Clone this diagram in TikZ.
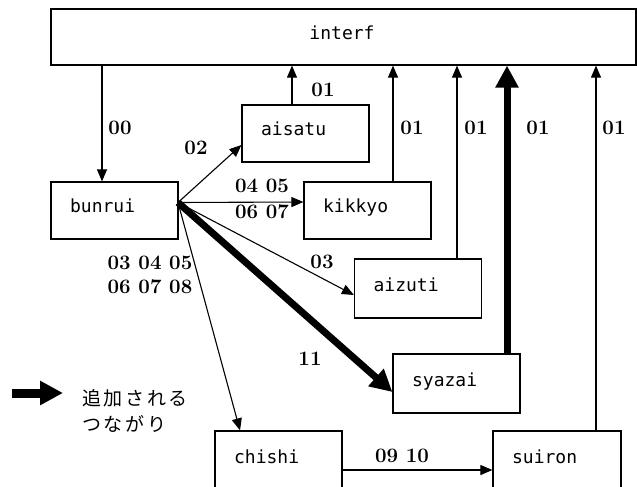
\documentclass[tikz,border=0pt]{standalone}
\usepackage{fontspec}
\newfontfamily\boxfont{DejaVu Sans Mono}
\newfontfamily\cjk[LetterSpace=14]{Noto Sans CJK JP}
\usetikzlibrary{arrows.meta}
\begin{document}
\begin{tikzpicture}[x=1pt,y=-1pt,
  box/.style={draw,line width=1.2pt,minimum width=127pt,minimum height=57pt,inner sep=0pt},
  btxt/.style={font=\boxfont\fontsize{18}{18}\selectfont,inner sep=0pt,anchor=base west},
  lab/.style={font=\bfseries\fontsize{20.5}{20.5}\selectfont,inner sep=0pt},
  jtxt/.style={font=\cjk\fontsize{19}{19}\selectfont,inner sep=0pt,anchor=west},
  conn/.style={line width=1.1pt,-{Triangle[length=12pt,width=10pt]}},
  bigconn/.style={line width=7pt,-{Triangle[length=22pt,width=22pt]}}
]
\useasboundingbox[fill=white] (0,0) rectangle (637,487);

% boxes
\node[box,minimum width=585pt,minimum height=56pt] (interf) at (343.5,37) {};
\node[box] (bunrui) at (114.5,210.5) {};
\node[box] (aisatu) at (305.5,133.5) {};
\node[box] (kikkyo) at (367.5,210.5) {};
\node[box,minimum height=59pt] (aizuti) at (418,288.5) {};
\node[box,minimum height=59pt] (syazai) at (456.5,383.5) {};
\node[box,minimum height=80pt] (chishi) at (278.5,471) {};
\node[box,minimum width=128pt,minimum height=80pt] (suiron) at (557,471) {};

% box texts
\node[btxt,anchor=base] (interfT) at ([shift={(-1.5,31)}]interf.north) {interf};
\node[btxt] (bunruiT) at ([shift={(19.5,31)}]bunrui.north west) {bunrui};
\node[btxt] (aisatuT) at ([shift={(19.5,31)}]aisatu.north west) {aisatu};
\node[btxt] (kikkyoT) at ([shift={(19.5,31)}]kikkyo.north west) {kikkyo};
\node[btxt] (aizutiT) at ([shift={(19.5,33)}]aizuti.north west) {aizuti};
\node[btxt] (syazaiT) at ([shift={(19.5,33)}]syazai.north west) {syazai};
\node[btxt] (chishiT) at ([shift={(19.5,33)}]chishi.north west) {chishi};
\node[btxt] (suironT) at ([shift={(19.5,33)}]suiron.north west) {suiron};

% connectors
\coordinate (bo) at (178,202.5);
\coordinate (b00) at ([shift={(-12.5,0)}]bunrui.north);
\draw[conn] (interf.south -| b00) -- (b00);
\draw[conn] (bo) -- ([shift={(0,11.5)}]aisatu.west);
\draw[conn] (bo) -- ([shift={(0,-8.5)}]kikkyo.west);
\draw[conn] (bo) -- ([shift={(0,6.5)}]aizuti.west);
\draw[bigconn] (bo) -- ([shift={(0,8.5)}]syazai.west);
\draw[conn] (bo) -- ([shift={(-38.5,0)}]chishi.north);
\coordinate (cs) at ([shift={(0,-1)}]chishi.east);
\draw[conn] (cs) -- (suiron.west |- cs);

\coordinate (a1) at ([shift={(-13.5,0)}]aisatu.north);
\draw[conn] (a1) -- (interf.south -| a1);
\coordinate (k1) at ([shift={(25.5,0)}]kikkyo.north);
\draw[conn] (k1) -- (interf.south -| k1);
\coordinate (z1) at ([shift={(39,0)}]aizuti.north);
\draw[conn] (z1) -- (interf.south -| z1);
\coordinate (s1) at ([shift={(50.5,0)}]syazai.north);
\draw[bigconn] (s1) -- (interf.south -| s1);
\coordinate (r1) at ([shift={(39,0)}]suiron.north);
\draw[conn] (r1) -- (interf.south -| r1);

% labels
\node[lab] (l00) at (120,128) {00};
\node[lab] (l02) at (196,148) {02};
\node[lab] (l0405) at (262,186) {04 05};
\node[lab] (l0607) at (262,212) {06 07};
\node[lab] (l030405) at (150,263) {03 04 05};
\node[lab] (l060708) at (150,287) {06 07 08};
\node[lab] (l03) at (322,262) {03};
\node[lab] (l11) at (310,359) {11};
\node[lab] (l0910) at (402,456) {09 10};
\node[lab] (l01a) at (323,90) {01};
\node[lab] (l01k) at (412,128) {01};
\node[lab] (l01z) at (476,128) {01};
\node[lab] (l01s) at (538,128) {01};
\node[lab] (l01r) at (614,128) {01};

% legend
\coordinate (lgA) at (12,393);
\coordinate (lgB) at (63,393);
\draw[line width=9pt,-{Triangle[length=23pt,width=23pt]}] (lgA) -- (lgB);
\node[jtxt] (lg1) at (82,398) {追加される};
\node[jtxt] (lg2) at (82,424) {つながり};
\end{tikzpicture}
\end{document}
